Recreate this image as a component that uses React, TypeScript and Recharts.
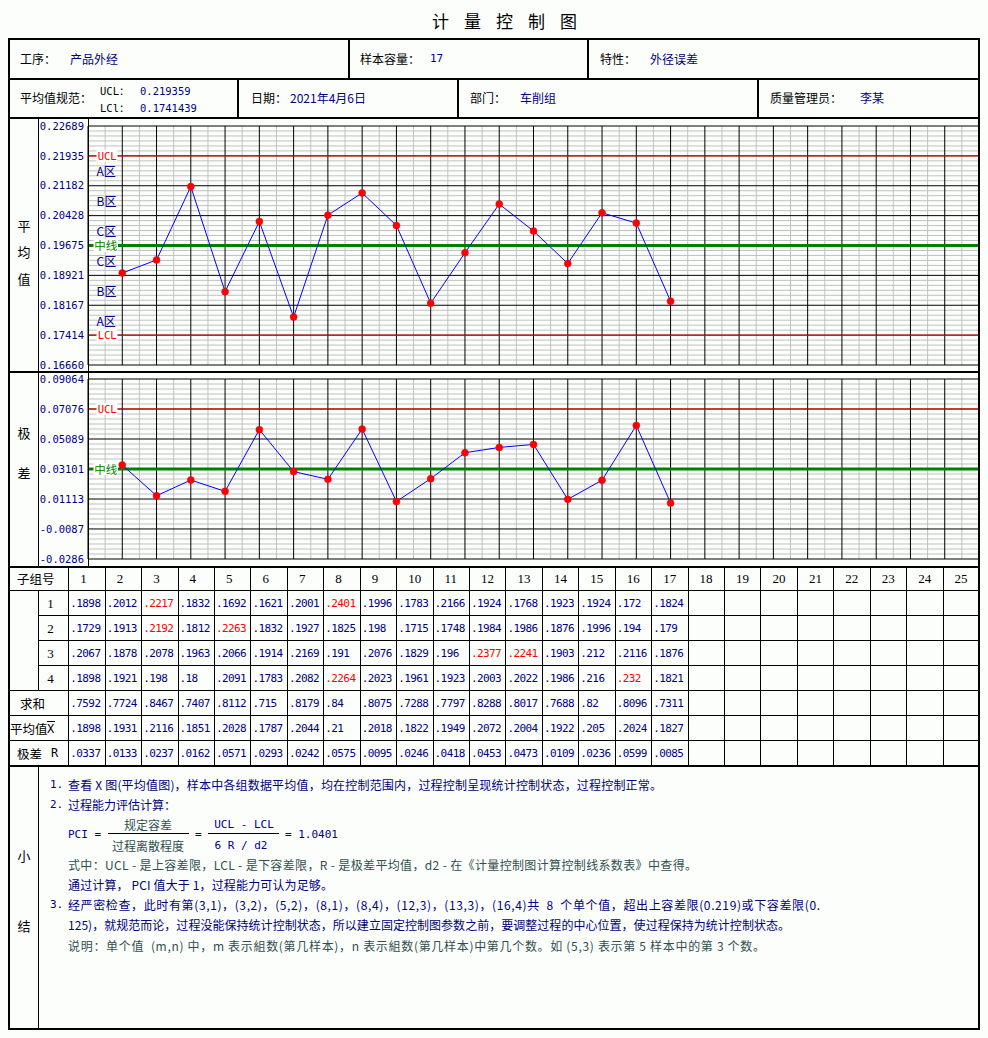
import { LineChart, Line, XAxis, YAxis, CartesianGrid, ReferenceLine } from 'recharts'

// subgroup numbers plotted on both charts
const subgroups = [1, 2, 3, 4, 5, 6, 7, 8, 9, 10, 11, 12, 13, 14, 15, 16, 17]
// column headings of the data table
const columnNumbers = [1, 2, 3, 4, 5, 6, 7, 8, 9, 10, 11, 12, 13, 14, 15, 16, 17, 18, 19, 20, 21, 22, 23, 24, 25]

const sample1 = [0.1898, 0.2012, 0.2217, 0.1832, 0.1692, 0.1621, 0.2001, 0.2401, 0.1996, 0.1783, 0.2166, 0.1924, 0.1768, 0.1923, 0.1924, 0.172, 0.1824]
const sample2 = [0.1729, 0.1913, 0.2192, 0.1812, 0.2263, 0.1832, 0.1927, 0.1825, 0.198, 0.1715, 0.1748, 0.1984, 0.1986, 0.1876, 0.1996, 0.194, 0.179]
const sample3 = [0.2067, 0.1878, 0.2078, 0.1963, 0.2066, 0.1914, 0.2169, 0.191, 0.2076, 0.1829, 0.196, 0.2377, 0.2241, 0.1903, 0.212, 0.2116, 0.1876]
const sample4 = [0.1898, 0.1921, 0.198, 0.18, 0.2091, 0.1783, 0.2082, 0.2264, 0.2023, 0.1961, 0.1923, 0.2003, 0.2022, 0.1986, 0.216, 0.232, 0.1821]
const sums = [0.7592, 0.7724, 0.8467, 0.7407, 0.8112, 0.715, 0.8179, 0.84, 0.8075, 0.7288, 0.7797, 0.8288, 0.8017, 0.7688, 0.82, 0.8096, 0.7311]
const means = [0.1898, 0.1931, 0.2116, 0.1851, 0.2028, 0.1787, 0.2044, 0.21, 0.2018, 0.1822, 0.1949, 0.2072, 0.2004, 0.1922, 0.205, 0.2024, 0.1827]
const ranges = [0.0337, 0.0133, 0.0237, 0.0162, 0.0571, 0.0293, 0.0242, 0.0575, 0.0095, 0.0246, 0.0418, 0.0453, 0.0473, 0.0109, 0.0236, 0.0599, 0.0085]

// single values outside the limits: [subgroup, sample]
const flagged = [[3, 1], [3, 2], [5, 2], [8, 1], [8, 4], [12, 3], [13, 3], [16, 4]]

const meanTicks = [0.1666, 0.17414, 0.18167, 0.18921, 0.19675, 0.20428, 0.21182, 0.21935, 0.22689]
const meanUCL = 0.21935
const meanCL = 0.19675
const meanLCL = 0.17414
const zoneNames = ['A区', 'B区', 'C区', 'C区', 'B区', 'A区']

const rangeTicks = [-0.0286, -0.0087, 0.01113, 0.03101, 0.05089, 0.07076, 0.09064]
const rangeUCL = 0.07076
const rangeCL = 0.03101

const NAVY = '#000080'
const SLATE = '#2f4f4f'
const BG = '#fcfefc'
const CJK = "'Noto Sans CJK SC', sans-serif"
const MONO = "'DejaVu Sans Mono', 'Noto Sans CJK SC', monospace"

const chartData = subgroups.map((g, i) => ({ g, mean: means[i], range: ranges[i] }))

const wholeSteps = Array.from({ length: 27 }, (_, i) => i)
const halfSteps = Array.from({ length: 26 }, (_, i) => i + 0.5)
const subdivide = (ticks: number[], parts: number) =>
  ticks.slice(1).flatMap((t, i) =>
    Array.from({ length: parts - 1 }, (_, k) => ticks[i] + ((t - ticks[i]) * (k + 1)) / parts))

const fmtTick = (v: number) => (v < 0 ? v.toFixed(4) : v.toFixed(5))
const fmtCell = (v: number) => String(v).replace(/^0/, '')

// tag drawn at the left end of a limit line, masking the line behind it
function LineTag({ viewBox, text, color }: any) {
  const x = viewBox?.x ?? 0
  const y = viewBox?.y ?? 0
  const cjk = /[^\x00-\x7f]/.test(text)
  return (
    <g>
      <rect x={x + (cjk ? 5.5 : 8.5)} y={y - 6} width={cjk ? 24.5 : 21} height={12} fill={BG} />
      <text x={x + (cjk ? 6.3 : 9.7)} y={y} dominantBaseline="central" fill={color}
        fontSize={cjk ? 11.5 : 10.5} fontFamily={cjk ? CJK : MONO}>{text}</text>
    </g>
  )
}

function ZoneTag({ viewBox, text }: any) {
  const x = viewBox?.x ?? 0
  const y = viewBox?.y ?? 0
  return (
    <text x={x + 8.5} y={y} dominantBaseline="central" fill={NAVY} fontSize={12} fontFamily={CJK}>{text}</text>
  )
}

function ControlChart({ dataKey, ticks, ucl, cl, lcl, zones, top, height, margin }: any) {
  const lo = ticks[0]
  const hi = ticks[ticks.length - 1]
  const zoneLevels = zones ? ticks.slice(1, ticks.length - 2).map((t: number, i: number) => (t + ticks[i + 2]) / 2) : []
  return (
    <div style={{ position: 'absolute', left: 38, top, width: 941, height }}>
      <LineChart width={941} height={height} data={chartData}
        margin={{ top: margin[0], right: 0, bottom: margin[1], left: 0 }}>
        <CartesianGrid stroke="#c0c0c0" horizontalValues={subdivide(ticks, 6)} verticalValues={halfSteps} />
        <CartesianGrid stroke="#000000" horizontalValues={ticks} verticalValues={wholeSteps} />
        <XAxis type="number" dataKey="g" domain={[0, 26]} hide allowDataOverflow />
        <YAxis type="number" domain={[lo, hi]} ticks={ticks} interval={0} width={50}
          axisLine={false} tickLine={false} tickSize={2} tickMargin={2} allowDataOverflow
          tick={{ fill: NAVY, fontSize: 10.5, fontFamily: MONO }} tickFormatter={fmtTick} />
        {zoneLevels.map((y: number, i: number) => (
          <ReferenceLine key={`z${i}`} y={y} stroke="none" strokeOpacity={0}
            label={<ZoneTag text={zones[i]} />} />
        ))}
        <ReferenceLine y={ucl} stroke="#ff0000" strokeWidth={1} label={<LineTag text="UCL" color="#ff0000" />} />
        {lcl !== undefined && (
          <ReferenceLine y={lcl} stroke="#ff0000" strokeWidth={1} label={<LineTag text="LCL" color="#ff0000" />} />
        )}
        <ReferenceLine y={cl} stroke="#008000" strokeWidth={3} label={<LineTag text="中线" color="#008000" />} />
        <Line type="linear" dataKey={dataKey} stroke="#0000ff" strokeWidth={1} activeDot={false}
          dot={{ r: 3.5, fill: '#ff0000', stroke: '#ff0000', strokeWidth: 0.5 }} isAnimationActive={false} />
      </LineChart>
    </div>
  )
}

function T({ x, y, children, size = 12, color = '#000', font = CJK, anchor = 'start', len }: any) {
  return (
    <text x={x} y={y} fontSize={size} fill={color} fontFamily={font} textAnchor={anchor}
      dominantBaseline="central" style={{ whiteSpace: 'pre' }}
      {...(len ? { textLength: len, lengthAdjust: 'spacing' } : {})}>{children}</text>
  )
}

const H = (y: number, x1: number, x2: number, w = 1) => <line key={`h${y}-${x1}`} x1={x1} y1={y} x2={x2} y2={y} stroke="#000" strokeWidth={w} />
const V = (x: number, y1: number, y2: number, w = 1) => <line key={`v${x}-${y1}`} x1={x} y1={y1} x2={x} y2={y2} stroke="#000" strokeWidth={w} />

const colX = (k: number) => 68.3 + 36.43 * k
const rowY = [603, 628, 653, 678, 703, 728, 753]

export default function App() {
  const tableRows = [sample1, sample2, sample3, sample4, sums, means, ranges]
  const isFlagged = (g: number, s: number) => flagged.some(([a, b]) => a === g && b === s)

  return (
    <div style={{ position: 'absolute', left: 0, top: 0, width: 988, height: 1038, background: BG, overflow: 'hidden' }}>
      <ControlChart dataKey="mean" ticks={meanTicks} ucl={meanUCL} cl={meanCL} lcl={meanLCL}
        zones={zoneNames} top={119} height={252} margin={[7, 6]} />
      <ControlChart dataKey="range" ticks={rangeTicks} ucl={rangeUCL} cl={rangeCL}
        top={373} height={193} margin={[6, 7]} />

      <svg width={988} height={1038} style={{ position: 'absolute', left: 0, top: 0, pointerEvents: 'none' }}
        shapeRendering="crispEdges">
        {/* title */}
        <T x={432} y={20} size={17} font={CJK}><tspan letterSpacing={15}>计量控制图</tspan></T>

        {/* frame and header rows */}
        <rect x={9} y={39} width={970} height={990} fill="none" stroke="#000" strokeWidth={2} />
        {H(79, 9, 979, 2)}
        {H(118, 9, 979, 2)}
        {H(372, 9, 979, 2.5)}
        {H(566.5, 9, 979, 2)}
        {V(348.5, 39, 79, 2)}
        {V(587.5, 39, 79, 2)}
        {V(238, 79, 118, 2)}
        {V(458, 79, 118, 2)}
        {V(758, 79, 118, 2)}
        {V(38.5, 118, 566)}
        {V(88.5, 118, 566)}

        <T x={20} y={58}>工序：</T>
        <T x={70} y={58} color={NAVY}>产品外经</T>
        <T x={360} y={58}>样本容量：</T>
        <T x={430} y={58} color={NAVY} font={MONO} size={11}>17</T>
        <T x={600} y={58}>特性：</T>
        <T x={650} y={58} color={NAVY}>外径误差</T>

        <T x={20} y={97}>平均值规范：</T>
        <T x={100} y={91} font={MONO} size={10.5}>UCL：</T>
        <T x={140} y={91} font={MONO} size={10.5} color={NAVY}>0.219359</T>
        <T x={100} y={108} font={MONO} size={10.5}>LCl：</T>
        <T x={140} y={108} font={MONO} size={10.5} color={NAVY}>0.1741439</T>
        <T x={251} y={97}>日期：</T>
        <T x={290} y={97} color={NAVY}>2021年4月6日</T>
        <T x={470} y={97}>部门：</T>
        <T x={520} y={97} color={NAVY}>车削组</T>
        <T x={770} y={97}>质量管理员：</T>
        <T x={860} y={97} color={NAVY}>李某</T>

        {/* side captions */}
        {['平', '均', '值'].map((c, i) => <T key={c} x={24} y={225 + i * 26.5} size={13} anchor="middle">{c}</T>)}
        {['极', '差'].map((c, i) => <T key={c} x={24} y={432 + i * 40} size={13} anchor="middle">{c}</T>)}

        {/* data table */}
        {H(590.5, 9, 979)}
        {H(615.5, 38, 979)}
        {H(640.5, 38, 979)}
        {H(665.5, 38, 979)}
        {H(690.5, 9, 979)}
        {H(715.5, 9, 979)}
        {H(740.5, 9, 979)}
        {H(766, 9, 979, 2)}
        {V(38.5, 590, 691)}
        {columnNumbers.map((_, k) => V(Math.round(colX(k)) + 0.5, 566, 766))}

        <T x={17} y={578} size={12.5}>子组号</T>
        {columnNumbers.map((n, k) => (
          <T key={`c${n}`} x={colX(k) + 12} y={578} size={13} font="'Liberation Serif', serif">{n}</T>
        ))}
        {[1, 2, 3, 4].map((n, i) => (
          <T key={`s${n}`} x={50.5} y={rowY[i]} size={13} anchor="middle" font="'Liberation Serif', serif">{n}</T>
        ))}
        <T x={20} y={703} size={12.5}>求和</T>
        <T x={10} y={728} size={12.5}>平均值</T>
        <T x={47} y={729} size={12} font={MONO}>X</T>
        {H(721.5, 47, 55)}
        <T x={17} y={753} size={12.5}>极差</T>
        <T x={51} y={753} size={12} font={MONO}>R</T>

        {tableRows.map((row, r) =>
          row.map((v, i) => (
            <T key={`d${r}-${i}`} x={colX(i) + 2} y={rowY[r]} size={11} font={MONO}
              color={r < 4 && isFlagged(subgroups[i], r + 1) ? '#ff0000' : NAVY}>
              <tspan letterSpacing={-0.6}>{fmtCell(v)}</tspan>
            </T>
          ))
        )}

        {/* summary */}
        {V(38.5, 766, 1029)}
        <T x={24} y={855} size={13} anchor="middle">小</T>
        <T x={24} y={925} size={13} anchor="middle">结</T>

        <T x={50} y={784} color={NAVY} font={MONO} size={11}>1.</T>
        <T x={68} y={784} color={NAVY} len={594}>查看 X 图(平均值图)，样本中各组数据平均值，均在控制范围内，过程控制呈现统计控制状态，过程控制正常。</T>
        <T x={50} y={804} color={NAVY} font={MONO} size={11}>2.</T>
        <T x={68} y={804} color={NAVY}>过程能力评估计算：</T>

        <T x={68} y={834} color={NAVY} font={MONO} size={11}>PCI =</T>
        <T x={148} y={824} color={SLATE} anchor="middle">规定容差</T>
        {H(833.5, 108, 189)}
        <T x={148} y={845} color={SLATE} anchor="middle">过程离散程度</T>
        <T x={195} y={834} color={NAVY} font={MONO} size={11}>=</T>
        <T x={244} y={824} color={NAVY} font={MONO} size={11} anchor="middle">UCL - LCL</T>
        {H(833.5, 208, 279)}
        <T x={241} y={845} color={NAVY} font={MONO} size={11} anchor="middle">6 R / d2</T>
        <T x={285} y={834} color={NAVY} font={MONO} size={11}>= 1.0401</T>

        <T x={68} y={864} color={SLATE} len={629}>式中：UCL - 是上容差限，LCL - 是下容差限，R - 是极差平均值，d2 - 在《计量控制图计算控制线系数表》中查得。</T>
        <T x={68} y={884} color={NAVY} len={265}>通过计算， PCI 值大于 1，过程能力可认为足够。</T>
        <T x={50} y={904} color={NAVY} font={MONO} size={11}>3.</T>
        <T x={68} y={904} color={NAVY} len={752}>经严密检查，此时有第(3,1)，(3,2)，(5,2)，(8,1)，(8,4)，(12,3)，(13,3)，(16,4)共  8  个单个值，超出上容差限(0.219)或下容差限(0.</T>
        <T x={68} y={924} color={NAVY} len={722}>125)，就规范而论，过程没能保持统计控制状态，所以建立固定控制图参数之前，要调整过程的中心位置，使过程保持为统计控制状态。</T>
        <T x={68} y={945} color={SLATE} len={697}>说明：单个值  (m,n) 中，m 表示組数(第几样本)，n 表示組数(第几样本)中第几个数。如 (5,3) 表示第 5 样本中的第 3 个数。</T>
      </svg>
    </div>
  )
}
